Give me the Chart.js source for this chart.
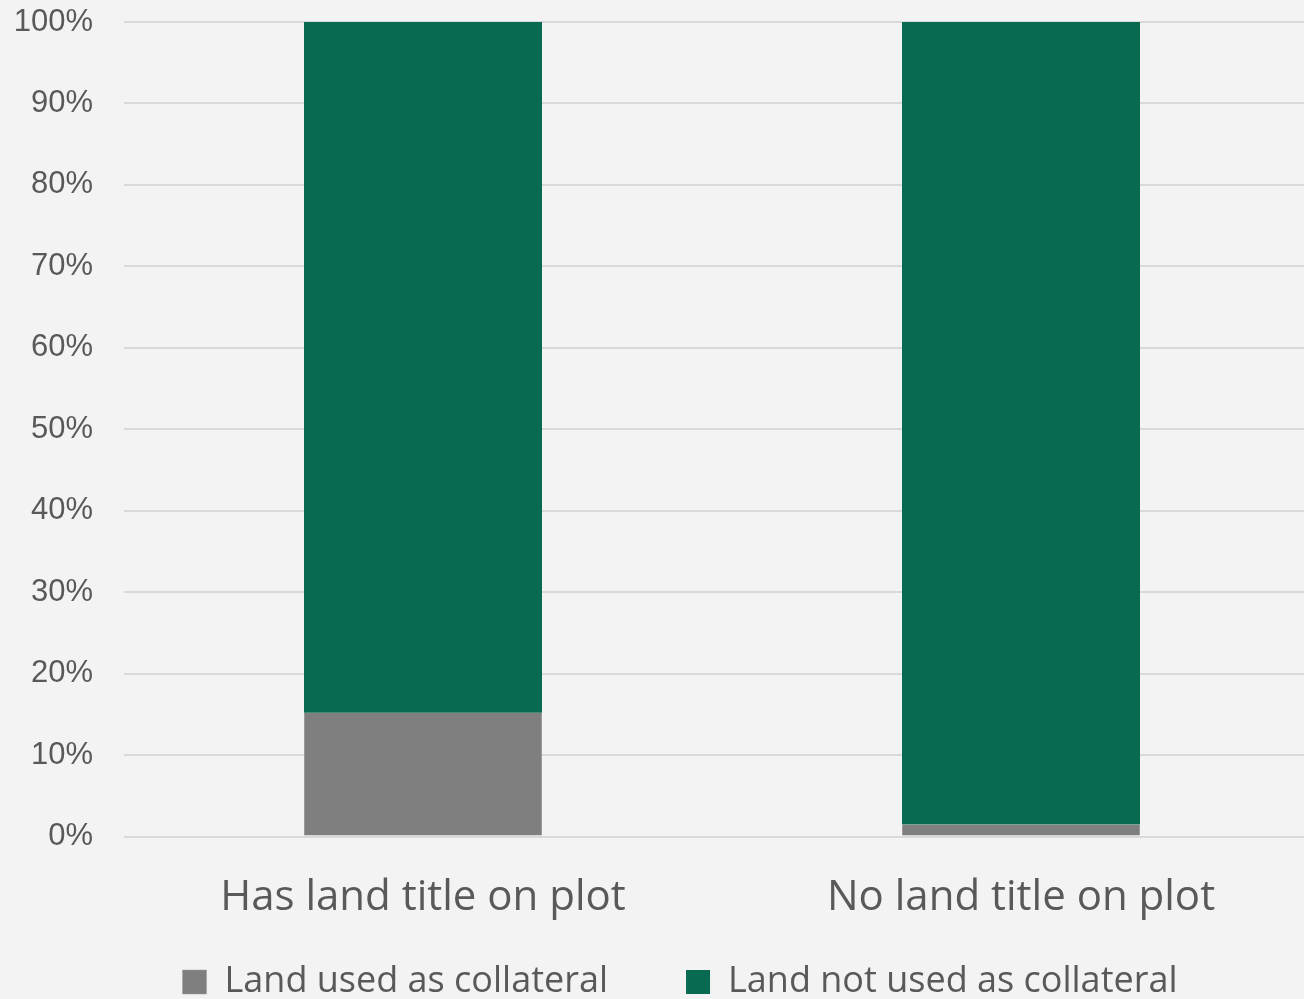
<!DOCTYPE html>
<html>
<head>
<meta charset="utf-8">
<script src="https://cdn.jsdelivr.net/npm/chart.js@4.4.0/dist/chart.umd.min.js"></script>
<style>
  html, body { margin: 0; padding: 0; background: #f3f3f3; overflow: hidden; }
  #wrap { width: 1320px; height: 1083px; }
</style>
</head>
<body>
<div id="wrap"><canvas id="landChart"></canvas></div>
<script>
const categories = ["Has land title on plot", "No land title on plot"];
const usedAsCollateral = [15.2, 1.5];
const notUsedAsCollateral = [84.8, 98.5];
const seriesNames = ["Land used as collateral", "Land not used as collateral"];
const tickValues = [0, 10, 20, 30, 40, 50, 60, 70, 80, 90, 100];

const textColor = "#595959";

// nudge the legend up under the category labels, slightly right of centre
const legendPlacer = {
    id: "legendPlacer",
    afterLayout(chart) {
        const lg = chart.legend;
        const h = lg.bottom - lg.top;
        lg.top = 886;
        lg.bottom = 886 + h;
        lg.left += 20;
        lg.right += 20;
    },
};

const ctx = document.getElementById("landChart").getContext("2d");
new Chart(ctx, {
    type: "bar",
    data: {
        labels: categories,
        datasets: [
            {
                label: seriesNames[0],
                data: usedAsCollateral,
                backgroundColor: "#7f7f7f",
                borderColor: "#9a9a9a",
                borderWidth: { left: 1, right: 1, top: 0, bottom: 0 },
                borderSkipped: false,
                categoryPercentage: 1,
                barPercentage: 0.398,
            },
            {
                label: seriesNames[1],
                data: notUsedAsCollateral,
                backgroundColor: "#076a51",
                borderWidth: 0,
                categoryPercentage: 1,
                barPercentage: 0.398,
            },
        ],
    },
    plugins: [legendPlacer],
    options: {
        responsive: true,
        maintainAspectRatio: false,
        animation: false,
        layout: { padding: { top: 22, right: 0, left: 0, bottom: 0 } },
        plugins: {
            tooltip: { enabled: false },
            legend: {
                position: "bottom",
                labels: {
                    color: textColor,
                    boxWidth: 24,
                    boxHeight: 24,
                    padding: 78,
                    font: { family: "'Open Sans'", size: 36 },
                },
            },
        },
        scales: {
            x: {
                stacked: true,
                grid: { display: false, drawTicks: false },
                border: { display: false },
                ticks: {
                    color: textColor,
                    padding: 36,
                    font: { family: "'Open Sans'", size: 42 },
                },
            },
            y: {
                stacked: true,
                min: 0,
                max: 100,
                afterFit: (scale) => {
                    scale.width = 124;
                    scale.paddingTop = 0;
                    scale.paddingBottom = 0;
                },
                afterBuildTicks: (scale) => {
                    scale.ticks = tickValues.map((v) => ({ value: v }));
                },
                grid: { color: "#d9d9d9", lineWidth: 2, drawTicks: false },
                border: { display: false },
                ticks: {
                    color: textColor,
                    padding: 31,
                    font: { family: "'Liberation Sans'", size: 31 },
                    callback: (v) => v + "%",
                },
            },
        },
    },
});
</script>
</body>
</html>
